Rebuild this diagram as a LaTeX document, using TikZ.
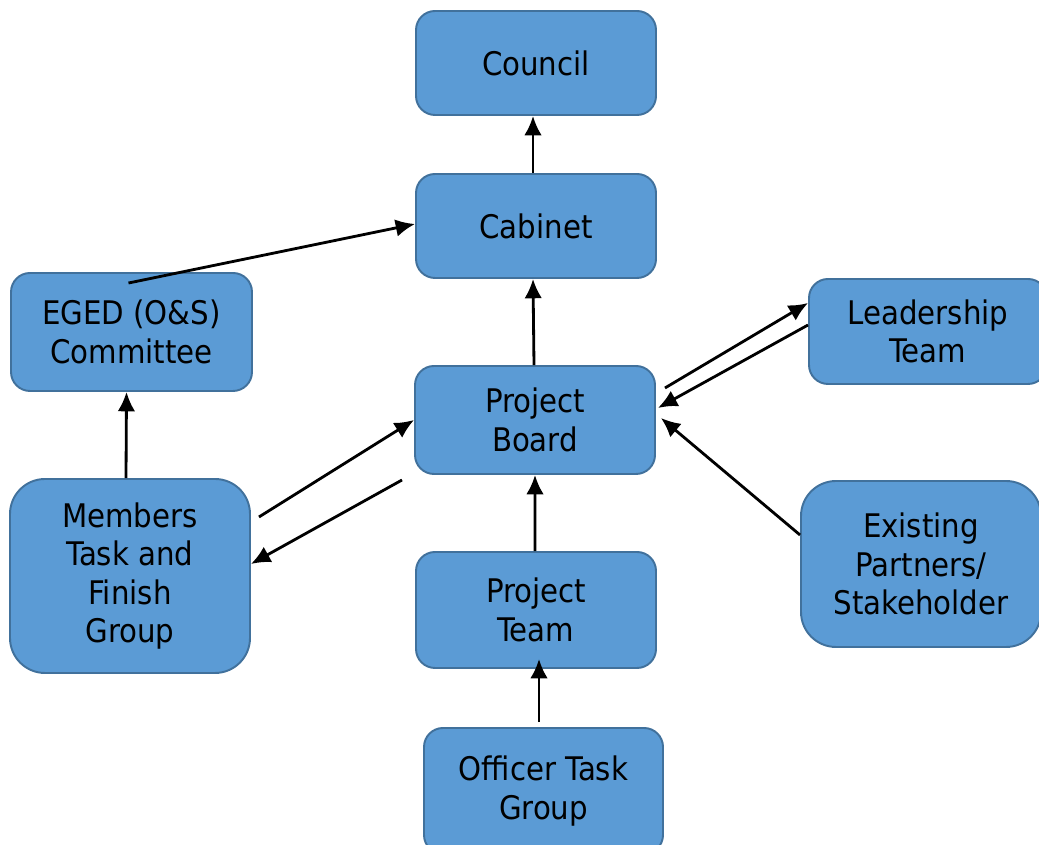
\documentclass[tikz,border=0pt]{standalone}
\usepackage{fontspec}
\setmainfont{DejaVu Sans Condensed}
\usepackage{tikz}
\usetikzlibrary{positioning,arrows.meta}
\definecolor{boxblue}{RGB}{91,155,213}
\definecolor{boxline}{RGB}{65,113,156}

\begin{document}
\begin{tikzpicture}[box/.style={fill=boxblue,draw=boxline,line width=1.1pt,rounded corners=0.38cm,align=center,inner sep=0pt,font=\fontsize{18.5}{21.8}\selectfont},
    arr/.style={-{Latex[length=11pt,width=10pt]},line width=1.6pt}]

        \useasboundingbox (0,0) rectangle (20.78,16.9);

        \node[box,minimum width=4.8cm,minimum height=2.08cm] (council) at (10.72,15.64) {Council};
        \node[box,minimum width=4.8cm,minimum height=2.08cm] (cabinet) at (10.72,12.38) {Cabinet};
        \node[box,minimum width=4.82cm,minimum height=2.36cm] (eged) at (2.63,10.26) {EGED (O\&S)\\Committee};
        \node[box,minimum width=4.8cm,minimum height=2.16cm] (board) at (10.70,8.50) {Project\\Board};
        \node[box,minimum width=4.76cm,minimum height=2.1cm] (leader) at (18.56,10.27) {Leadership\\Team};

        \node[box,minimum width=4.8cm,minimum height=3.88cm,rounded corners=0.7cm] (members) at (2.60,5.38) {Members\\Task and\\Finish\\Group};
        \node[box,minimum width=4.8cm,minimum height=2.32cm] (team) at (10.72,4.70) {Project\\Team};
        \node[box,minimum width=4.8cm,minimum height=3.32cm,rounded corners=0.7cm] (partners) at (18.42,5.62) {Existing\\Partners/\\Stakeholder};
        \node[box,minimum width=4.78cm,minimum height=2.52cm] (officer) at (10.87,1.08) {Officer Task\\Group};

        \draw[arr] ([xshift=-0.06cm]cabinet.north) to ([xshift=-0.06cm]council.south);
        \draw[arr] ([xshift=-0.06cm,yshift=-0.22cm]eged.north) to ([yshift=0.04cm]cabinet.west);
        \draw[arr] ([xshift=-0.02cm]board.north) to ([xshift=-0.06cm]cabinet.south);
        \draw[arr] ([xshift=-0.08cm]members.north) to ([xshift=-0.1cm]eged.south);

        \draw[arr] ([xshift=0.16cm,yshift=1.18cm]members.east) to (board.west);
        \draw[arr] ([xshift=-0.24cm,yshift=-1.2cm]board.west) to ([yshift=0.24cm]members.east);

        \draw[arr] ([xshift=-0.02cm]team.north) to (board.south);
        \draw[arr] ([xshift=-0.09cm,yshift=0.1cm]officer.north) to ([xshift=0.06cm,yshift=0.2cm]team.south);

        \draw[arr] ([xshift=0.18cm,yshift=0.64cm]board.east) to ([yshift=0.57cm]leader.west);
        \draw[arr] ([yshift=0.13cm]leader.west) to ([xshift=0.04cm,yshift=0.24cm]board.east);
        \draw[arr] ([yshift=0.58cm]partners.west) to ([xshift=0.1cm,yshift=0.04cm]board.east);
    \end{tikzpicture}
\end{document}
